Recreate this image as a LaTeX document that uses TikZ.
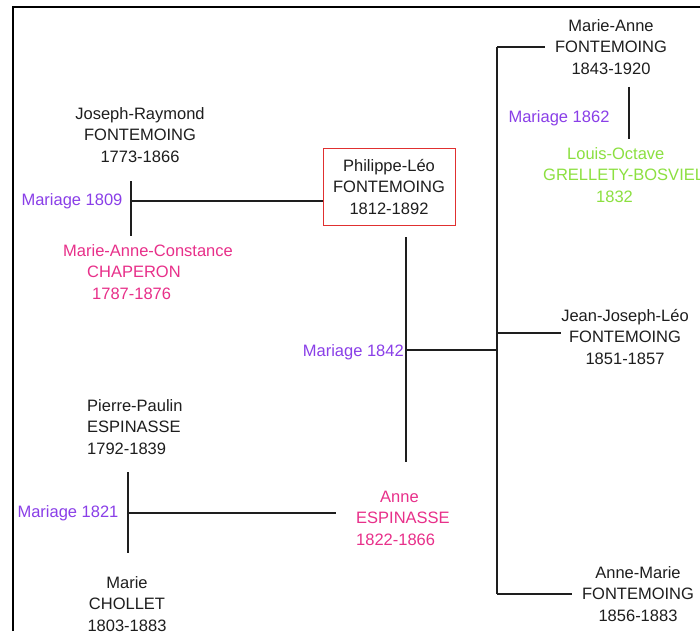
\documentclass[tikz,border=0pt]{standalone}
\usepackage{fontspec}
\setmainfont{Liberation Sans}
\definecolor{mpurple}{RGB}{138,63,232}
\definecolor{mpink}{RGB}{232,48,138}
\definecolor{mgreen}{RGB}{140,224,64}
\definecolor{mred}{RGB}{224,48,48}
\definecolor{ink}{RGB}{30,30,30}
\tikzset{
  person/.style={inner sep=0pt, align=center, text=ink, font=\fontsize{16.5}{21.5}\selectfont},
  wife/.style={person, text=mpink},
  mar/.style={inner sep=0pt, text=mpurple, font=\fontsize{16.5}{21.5}\selectfont},
  link/.style={draw=ink, line width=1.4pt},
  frame/.style={draw=black, line width=2pt}
}
\begin{document}
\begin{tikzpicture}[x=1pt,y=-1pt]
\useasboundingbox (0,0) rectangle (700,631);
\fill[white] (0,0) rectangle (700,631);
\draw[frame] (13,631) -- (13,7) -- (700,7);

% generation 1 (Fontemoing)
\node[person] (jr) at (140,135) {Joseph-Raymond\\FONTEMOING\\1773-1866};
\node[wife, align=left, anchor=west] (mac) at (63,272) {Marie-Anne-Constance\\\hspace*{24pt}CHAPERON\\\hspace*{29pt}1787-1876};
\node[mar] (m1809) at (72,201) {Mariage 1809};

% Philippe-Léo
\node[person, draw=mred, line width=1pt, minimum width=132pt, minimum height=76pt] (pl) at (389,187) {Philippe-Léo\\FONTEMOING\\1812-1892};

% generation 1 (Espinasse)
\node[person, align=left, anchor=west] (pp) at (87,427) {Pierre-Paulin\\ESPINASSE\\1792-1839};
\node[person] (mc) at (127,604) {Marie\\CHOLLET\\1803-1883};
\node[mar] (m1821) at (68,513) {Mariage 1821};

% Anne Espinasse
\node[wife, align=left, anchor=west] (ae) at (356,518) {\hspace*{24pt}Anne\\ESPINASSE\\1822-1866};
\node[mar, anchor=east] (m1842) at (404,352) {Mariage 1842};

% children
\node[person] (ma) at (611,47) {Marie-Anne\\FONTEMOING\\1843-1920};
\node[mar] (m1862) at (559,118) {Mariage 1862};
\node[person, align=left, anchor=west, text=mgreen] (lo) at (543,175) {\hspace*{24pt}Louis-Octave\\GRELLETY-BOSVIEL\\\hspace*{53pt}1832};
\node[person] (jjl) at (625,337) {Jean-Joseph-Léo\\FONTEMOING\\1851-1857};
\node[person] (am) at (638,594) {Anne-Marie\\FONTEMOING\\1856-1883};

% coordinates
\coordinate (j1809) at (131,201);
\coordinate (j1809t) at (131,181);
\coordinate (j1809b) at (131,236);
\coordinate (j1821) at (128,513);
\coordinate (j1821t) at (128,472);
\coordinate (j1821b) at (128,553);
\coordinate (j1821e) at (336,513);
\coordinate (plt) at (406,237);
\coordinate (plb) at (406,462);
\coordinate (j1842) at (406,350);
\coordinate (trk) at (497,350);
\coordinate (trkt) at (497,47);
\coordinate (trkb) at (497,594);
\coordinate (trkj) at (497,333);
\coordinate (mae) at (545,47);
\coordinate (jjle) at (561,333);
\coordinate (ame) at (572,594);
\coordinate (m62t) at (629,87);
\coordinate (m62b) at (629,139);

% connectors
\draw[link] (j1809t) -- (j1809b);
\draw[link] (j1809) -- (j1809 -| pl.west);
\draw[link] (j1821t) -- (j1821b);
\draw[link] (j1821) -- (j1821e);
\draw[link] (plt) -- (plb);
\draw[link] (j1842) -- (trk);
\draw[link] (trkt) -- (trkb);
\draw[link] (trkt) -- (mae);
\draw[link] (trkj) -- (jjle);
\draw[link] (trkb) -- (ame);
\draw[link] (m62t) -- (m62b);
\end{tikzpicture}
\end{document}
